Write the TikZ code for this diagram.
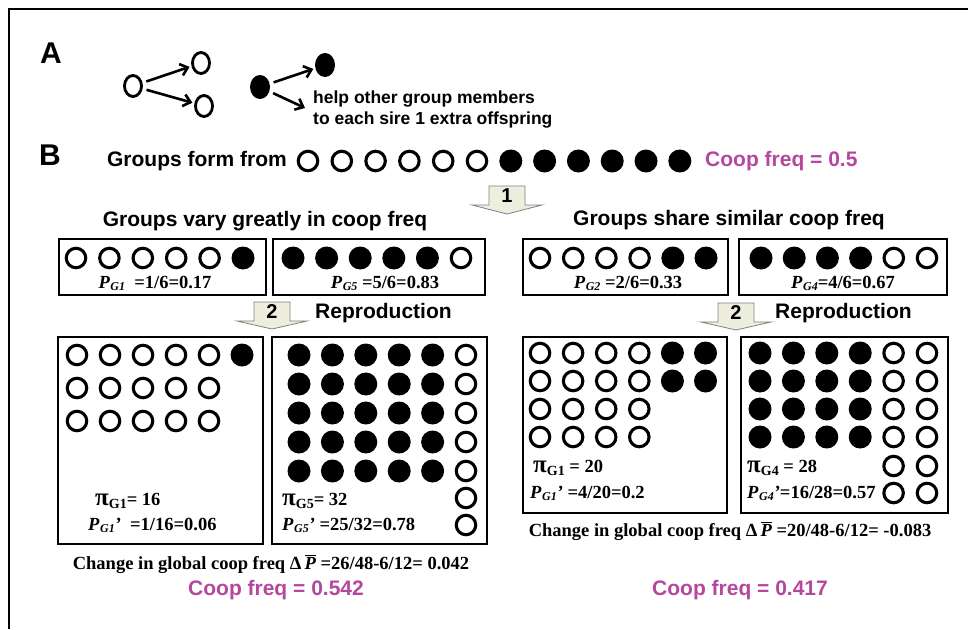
\documentclass[tikz,border=0pt]{standalone}
\usepackage{fontspec}
\setmainfont{Liberation Serif}
\setsansfont{Liberation Sans}
\usetikzlibrary{arrows.meta,shapes.geometric}
\definecolor{coop}{HTML}{B5489E}
\definecolor{arrfill}{HTML}{EEEEDF}
\definecolor{arrline}{HTML}{808080}
\newcommand\headfont{\sffamily\bfseries\fontsize{21}{25}\selectfont}
\newcommand\serfont{\rmfamily\bfseries\fontsize{18.5}{22}\selectfont}
\newcommand\Pg[1]{\textit{P}\kern0.5pt\raisebox{-0.35ex}{\fontsize{12}{12}\selectfont\textit{#1}}}
\newcommand\Pig[1]{{\fontsize{25}{25}\selectfont π}\raisebox{-0.45ex}{\fontsize{14}{14}\selectfont #1}}
\newcommand\Pbar{$\overline{\mbox{\textit{P}}}$}
\tikzset{
  oc/.style={circle, draw, line width=3.1pt, minimum size=19.5pt, inner sep=0pt, outer sep=0pt},
  fc/.style={circle, fill, minimum size=23pt, inner sep=0pt},
  aoc/.style={ellipse, draw, line width=2.8pt, minimum width=17pt, minimum height=21pt, inner sep=0pt},
  afc/.style={ellipse, fill, minimum width=20pt, minimum height=24pt, inner sep=0pt},
  gbox/.style={draw, line width=1.6pt},
  hdtxt/.style={font=\headfont, inner sep=0pt},
  ser/.style={font=\serfont, inner sep=0pt},
  arr/.style={line width=2.6pt, -{Straight Barb[length=7pt,width=12pt]}, shorten <=4pt, shorten >=2pt},
  blk/.style={fill=arrfill, draw=arrline, line width=0.8pt},
  numtxt/.style={font=\sffamily\bfseries\fontsize{20}{20}\selectfont, inner sep=0pt},
  atxt/.style={font=\sffamily\bfseries\fontsize{17.5}{20}\selectfont, inner sep=0pt, anchor=base west},
}
\begin{document}
\begin{tikzpicture}[x=1pt,y=-1pt]
\useasboundingbox (0,0) rectangle (968,629);
\fill[white] (0,0) rectangle (968,629);
\draw[line width=1.8pt] (9,629) -- (9,9) -- (968,9);

% ---------- Part A ----------
\node[font={\sffamily\bfseries\fontsize{30}{30}\selectfont}, inner sep=0pt] (lblA) at (51,53) {A};
\node[aoc] (a0) at (133,86) {};
\node[aoc] (a1) at (201,63) {};
\node[aoc] (a2) at (204,106) {};
\node[afc] (b0) at (260,87) {};
\node[afc] (b1) at (325,65) {};
\coordinate (b2) at (305,108);
\draw[arr] (a0) -- (a1);
\draw[arr] (a0) -- (a2);
\draw[arr] (b0) -- (b1);
\draw[arr, shorten >=0pt] (b0) -- (b2);
\node[atxt] (help1) at (313,103) {help other group members};
\node[atxt] (help2) at (313,124) {to each sire 1 extra offspring};

% ---------- Part B ----------
\node[font={\sffamily\bfseries\fontsize{30}{30}\selectfont}, inner sep=0pt] (lblB) at (50,155) {B};
\node[hdtxt, anchor=east] (formtxt) at (287,161) {Groups form from};
\foreach \i in {0,...,5} \node[oc] (r\i) at ({308+33.8*\i},161) {};
\foreach \i in {6,...,11} \node[fc] (r\i) at ({308+33.8*\i},161) {};
\node[hdtxt, text=coop, anchor=west] (cf0) at (705,161) {Coop freq = 0.5};

% block arrow 1
\begin{scope}[shift={(507,186)}]
\draw[blk] (-18,0) -- (18,0) -- (18,19) -- (35,19) -- (0,28) -- (-35,19) -- (-18,19) -- cycle;
\node[numtxt] (n1) at (0,10) {1};
\end{scope}

\node[hdtxt] (varyhd) at (265,221) {Groups vary greatly in coop freq};
\node[hdtxt] (sharehd) at (729,220) {Groups share similar coop freq};

% top boxes
\draw[gbox] (59,239) rectangle (266,295);
\draw[gbox] (273,239) rectangle (485,295);
\draw[gbox] (523,239) rectangle (728,295);
\draw[gbox] (739,239) rectangle (947,295);

\foreach \c in {0,...,4} \node[oc] (g1c\c) at ({76+33.4*\c},258) {};
\node[fc] (g1c5) at (243,258) {};
\foreach \c in {0,...,4} \node[fc] (g5c\c) at ({293+33.6*\c},258) {};
\node[oc] (g5c5) at (461,258) {};
\foreach \c in {0,...,3} \node[oc] (g2c\c) at ({540+33.2*\c},258) {};
\foreach \c in {4,5} \node[fc] (g2c\c) at ({540+33.2*\c},258) {};
\foreach \c in {0,...,3} \node[fc] (g4c\c) at ({761+33.2*\c},258) {};
\foreach \c in {4,5} \node[oc] (g4c\c) at ({761+33.2*\c},258) {};

\node[ser, anchor=base] (pg1) at (155,288) {\Pg{G1}\ \ =1/6=0.17};
\node[ser, anchor=base] (pg5) at (385,288) {\Pg{G5}\ =5/6=0.83};
\node[ser, anchor=base] (pg2) at (628,288) {\Pg{G2}\ =2/6=0.33};
\node[ser, anchor=base] (pg4) at (843,288) {\Pg{G4}=4/6=0.67};

% block arrows 2
\begin{scope}[shift={(272,302)}]
\draw[blk] (-18,0) -- (18,0) -- (18,19) -- (35,19) -- (0,27) -- (-35,19) -- (-18,19) -- cycle;
\node[numtxt] (n2l) at (0,10) {2};
\end{scope}
\node[hdtxt, anchor=west] (reprl) at (315,313) {Reproduction};
\begin{scope}[shift={(736,303)}]
\draw[blk] (-18,0) -- (18,0) -- (18,19) -- (35,19) -- (0,27) -- (-35,19) -- (-18,19) -- cycle;
\node[numtxt] (n2r) at (0,10) {2};
\end{scope}
\node[hdtxt, anchor=west] (reprr) at (775,313) {Reproduction};

% bottom boxes
\draw[gbox] (58,337) rectangle (263,544);
\draw[gbox] (272,337) rectangle (487,544);
\draw[gbox] (523,337) rectangle (727,513);
\draw[gbox] (741,337) rectangle (948,513);

% G1'
\foreach \r/\y in {1/355,2/388,3/421} {\foreach \c in {0,...,4} \node[oc] (p\r-\c) at ({77+33*\c},\y) {};}
\node[fc] (p1-5) at (242,355) {};
% G5'
\foreach \r/\y in {1/355,2/384,3/413,4/442,5/471} {
  \foreach \c in {0,...,4} \node[fc] (q\r-\c) at ({299+33.4*\c},\y) {};
  \node[oc] (q\r-5) at (466,\y) {};
}
\node[oc] (q6-5) at (466,498) {};
\node[oc] (q7-5) at (466,525) {};
% G2'
\foreach \r/\y in {1/353,2/381,3/409,4/437} {\foreach \c in {0,...,3} \node[oc] (s\r-\c) at ({540+33.1*\c},\y) {};}
\foreach \r/\y in {1/353,2/381} {\foreach \c in {4,5} \node[fc] (s\r-\c) at ({540+33.1*\c},\y) {};}
% G4'
\foreach \r/\y in {1/353,2/381,3/409,4/437} {
  \foreach \c in {0,...,3} \node[fc] (t\r-\c) at ({760+33.4*\c},\y) {};
  \foreach \c in {4,5} \node[oc] (t\r-\c) at ({760+33.4*\c},\y) {};
}
\foreach \r/\y in {5/466,6/493} {\foreach \c in {4,5} \node[oc] (t\r-\c) at ({760+33.4*\c},\y) {};}

% texts in bottom boxes
\node[ser, anchor=base west] (pi1) at (95,505) {\Pig{G1}= 16};
\node[ser, anchor=base west] (pp1) at (88,530) {\Pg{G1}\textit{'}\ \ =1/16=0.06};
\node[ser, anchor=base west] (pi5) at (282,505) {\Pig{G5}= 32};
\node[ser, anchor=base west] (pp5) at (282,530) {\Pg{G5}\textit{'}\ =25/32=0.78};
\node[ser, anchor=base west] (pi2) at (533,472) {\Pig{G1} = 20};
\node[ser, anchor=base west] (pp2) at (530,498) {\Pg{G1}\textit{'}\ =4/20=0.2};
\node[ser, anchor=base west] (pi4) at (747,472) {\Pig{G4} = 28};
\node[ser, anchor=base west] (pp4) at (747,498) {\Pg{G4}\textit{'}=16/28=0.57};

\node[ser, anchor=base] (chl) at (271,569) {Change in global coop freq Δ\,\Pbar\ =26/48-6/12= 0.042};
\node[ser, anchor=base] (chr) at (730,536) {Change in global coop freq Δ\,\Pbar\ =20/48-6/12= -0.083};

\node[hdtxt, text=coop] (cfl) at (276,590) {Coop freq = 0.542};
\node[hdtxt, text=coop] (cfr) at (740,590) {Coop freq = 0.417};
\end{tikzpicture}
\end{document}
